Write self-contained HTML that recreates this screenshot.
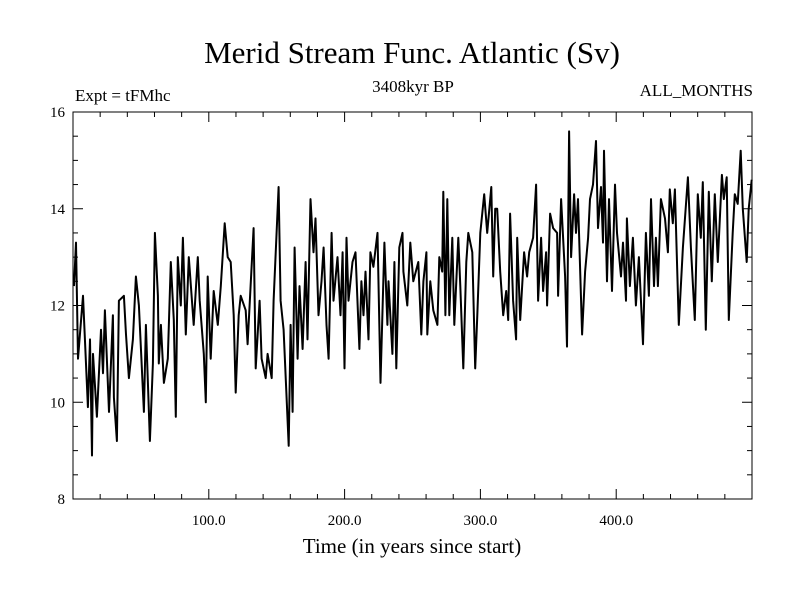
<!DOCTYPE html>
<html><head><meta charset="utf-8"><style>
body{margin:0;background:#fff;}
svg{display:block;font-family:"Liberation Serif",serif;}
</style></head><body>
<svg id="chart" width="800" height="600" viewBox="0 0 800 600">
<rect width="800" height="600" fill="#fff"/>
<text x="412" y="63" font-size="31" text-anchor="middle">Merid Stream Func. Atlantic (Sv)</text>
<text x="75" y="101" font-size="17">Expt = tFMhc</text>
<text x="413" y="92" font-size="17" text-anchor="middle">3408kyr BP</text>
<text x="753" y="96" font-size="17" text-anchor="end">ALL_MONTHS</text>
<text x="412" y="553" font-size="21" text-anchor="middle">Time (in years since start)</text>
<g id="axes"></g>
<path id="series" fill="none" stroke="#000" stroke-width="2" stroke-linejoin="round"/>
</svg>
<script>
const years=[0.7,2.2,3.7,7.4,11.0,12.5,14.0,14.7,17.6,20.6,22.1,23.5,26.5,29.4,30.1,32.3,33.8,37.5,39.0,41.2,44.1,46.3,48.5,52.2,53.7,56.6,58.8,60.3,62.5,63.2,64.7,66.9,69.8,72.0,74.2,75.7,77.2,79.4,80.9,83.1,85.3,88.9,91.9,93.3,96.3,97.8,99.2,101.4,103.6,106.6,108.8,111.7,113.9,116.1,118.3,119.8,122.0,123.5,127.2,128.6,130.8,133.0,134.5,137.4,138.9,141.9,143.3,146.3,147.7,151.4,152.9,155.1,158.8,160.2,161.7,163.2,165.4,166.8,169.1,171.3,172.7,174.9,177.1,178.6,180.8,183.0,184.5,186.7,188.2,190.4,191.8,194.8,197.0,198.5,199.9,201.4,202.9,205.8,208.0,210.9,212.4,213.9,215.4,217.6,219.0,221.2,224.2,226.4,229.3,231.5,232.3,235.2,236.7,238.1,240.3,242.6,243.3,246.2,248.4,250.6,254.3,256.5,258.0,260.2,260.9,263.1,265.3,268.3,269.7,271.9,272.7,274.2,275.6,277.1,279.3,280.8,283.7,285.2,287.4,289.6,291.1,294.0,296.2,297.7,299.9,302.8,305.0,308.0,309.4,310.9,312.4,314.6,316.8,319.0,320.5,321.9,324.1,326.3,327.1,329.3,332.2,334.4,335.9,338.8,341.0,342.5,344.7,346.2,348.4,349.1,351.3,353.5,356.5,357.2,359.4,362.4,363.8,365.3,366.8,369.0,370.4,371.9,374.9,377.1,379.3,380.7,382.9,385.1,386.6,388.8,390.3,391.0,393.2,394.7,396.9,399.1,400.6,403.5,405.0,407.2,407.9,410.1,412.3,414.5,416.7,419.7,421.9,424.1,425.6,427.8,429.2,430.7,432.9,435.9,438.1,439.5,441.7,443.2,446.1,449.1,452.8,455.0,457.9,460.1,462.3,463.8,466.0,468.2,470.4,472.6,474.8,477.8,479.2,481.4,482.9,485.8,487.3,489.5,491.7,493.2,496.1,497.6,499.8];
const values=[12.4,13.3,10.9,12.2,9.9,11.3,8.9,11.0,9.7,11.5,10.6,11.9,9.8,11.8,10.1,9.2,12.1,12.2,11.4,10.5,11.3,12.6,12.0,9.8,11.6,9.2,10.8,13.5,12.2,10.8,11.6,10.4,10.9,12.9,11.7,9.7,13.0,12.0,13.4,11.4,13.0,11.6,13.0,12.1,11.0,10.0,12.6,10.9,12.3,11.6,12.4,13.7,13.0,12.9,11.8,10.2,11.8,12.2,11.9,11.2,12.4,13.6,10.7,12.1,10.9,10.5,11.0,10.5,12.1,14.45,12.1,11.5,9.1,11.6,9.8,13.2,10.9,12.4,11.1,12.9,11.3,14.2,13.1,13.8,11.8,12.5,13.2,11.6,10.9,13.5,12.1,13.0,11.8,13.1,10.7,13.4,12.1,12.9,13.1,11.1,12.5,11.8,12.7,11.3,13.1,12.8,13.5,10.4,13.3,11.6,12.5,11.0,12.9,10.7,13.2,13.5,12.7,12.0,13.3,12.5,12.9,11.4,12.5,13.1,11.4,12.5,11.9,11.6,13.0,12.7,14.35,11.8,14.2,11.8,13.4,11.6,13.4,12.4,10.7,12.9,13.5,13.1,10.7,11.8,13.5,14.3,13.5,14.45,12.6,14.0,14.0,12.7,11.8,12.3,11.7,13.9,12.1,11.3,13.4,11.7,13.1,12.6,13.1,13.4,14.5,12.1,13.4,12.3,13.1,12.0,13.9,13.6,13.5,12.2,14.2,12.6,11.15,15.6,13.0,14.3,13.5,14.2,11.4,12.7,13.4,14.2,14.5,15.4,13.6,14.45,13.3,15.2,12.5,14.2,12.3,14.5,13.5,12.6,13.3,12.1,13.8,12.4,13.4,12.0,13.0,11.2,13.5,12.2,14.2,12.4,13.4,12.4,14.2,13.8,13.1,14.4,13.7,14.4,11.6,13.2,14.65,13.2,11.7,14.3,13.4,14.55,11.5,14.35,12.5,14.3,12.9,14.7,14.2,14.65,11.7,13.5,14.3,14.1,15.2,14.0,12.9,14.0,14.6];
const xTickValues=[100,200,300,400];
const xTickLabels=["100.0","200.0","300.0","400.0"];
const yTickValues=[8,10,12,14,16];
const yTickLabels=["8","10","12","14","16"];

const L=73,R=752,T=112,B=499,XMIN=0,XMAX=500,YMIN=8,YMAX=16;
const xs=v=>L+(v-XMIN)/(XMAX-XMIN)*(R-L);
const ys=v=>B-(v-YMIN)/(YMAX-YMIN)*(B-T);
const NS="http://www.w3.org/2000/svg";
const axes=document.getElementById('axes');
function mk(tag,attrs){const e=document.createElementNS(NS,tag);for(const k in attrs)e.setAttribute(k,attrs[k]);return e;}

const frame=mk('rect',{x:L,y:T,width:R-L,height:B-T,fill:'none',stroke:'#000','stroke-width':1});


axes.appendChild(frame);

for(let v=20;v<XMAX;v+=20){
  const major=v%100===0, len=major?10:5, x=xs(v);
  const t1=mk('line',{x1:x,x2:x,y1:B,y2:B-len,stroke:'#000'});
  
  
  axes.appendChild(t1);
  const t2=mk('line',{x1:x,x2:x,y1:T,y2:T+len,stroke:'#000'});
  
  
  axes.appendChild(t2);
}
for(let v=YMIN+0.5;v<YMAX;v+=0.5){
  const major=Math.abs(v-Math.round(v/2)*2)<1e-6, len=major?10:5, y=ys(v);
  const t1=mk('line',{x1:L,x2:L+len,y1:y,y2:y,stroke:'#000'});
  
  
  axes.appendChild(t1);
  const t2=mk('line',{x1:R,x2:R-len,y1:y,y2:y,stroke:'#000'});
  
  
  axes.appendChild(t2);
}
xTickValues.forEach((v,i)=>{
  const t=mk('text',{x:xs(v),y:B+26,'font-size':15,'text-anchor':'middle'});
  t.textContent=xTickLabels[i];
  
  
  axes.appendChild(t);
});
yTickValues.forEach((v,i)=>{
  const t=mk('text',{x:L-8,y:ys(v)+5,'font-size':15,'text-anchor':'end'});
  t.textContent=yTickLabels[i];
  
  
  axes.appendChild(t);
});
let d='';
years.forEach((yr,i)=>{d+=(i?'L':'M')+xs(yr).toFixed(1)+','+ys(values[i]).toFixed(1);});
document.getElementById('series').setAttribute('d',d);
</script>
</body></html>
